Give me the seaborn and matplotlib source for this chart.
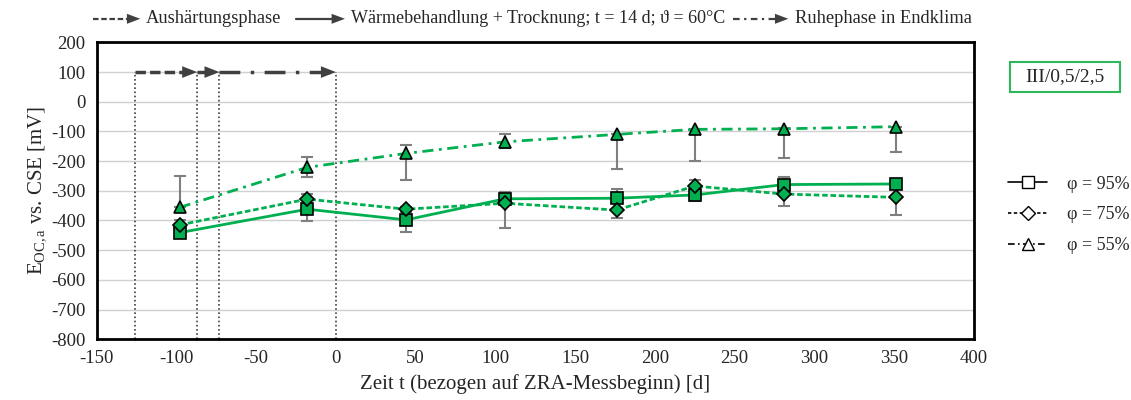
import numpy as np
import pandas as pd
import matplotlib
matplotlib.use("Agg")
import matplotlib.pyplot as plt
from matplotlib.lines import Line2D
from matplotlib.patches import Rectangle
import seaborn as sns

# Measurement times relative to the start of the ZRA measurement [d]
t_days = [-98, -18, 44, 106, 176, 225, 281, 351]

# Open circuit potential vs. CSE [mV] per relative humidity
e_95 = [-441, -362, -398, -327, -325, -314, -279, -277]
e_75 = [-415, -328, -362, -342, -365, -284, -311, -322]
e_55 = [-356, -221, -174, -135, -110, -93, -91, -84]

# Error bar ends (lower, upper) [mV]
lo_95 = [-450, -402, -438, -327, -325, -333, -279, -277]
hi_95 = [-441, -362, -398, -303, -294, -314, -254, -277]
lo_75 = [-425, -328, -372, -424, -393, -284, -350, -380]
hi_75 = [-400, -310, -355, -342, -365, -264, -311, -322]
lo_55 = [-356, -254, -265, -157, -228, -199, -188, -168]
hi_55 = [-250, -186, -147, -109, -110, -93, -87, -84]

labels = ["φ = 95%", "φ = 75%", "φ = 55%"]

# Phase boundaries [d]
phase_t = [-126, -87, -73, 0]
phase_level = 100

GREEN = "#00B050"
GREY = "#7F7F7F"
DARK = "#404040"

sns.set_theme(style="white")
plt.rcParams["font.family"] = ["Liberation Serif", "DejaVu Serif"]
plt.rcParams["mathtext.fontset"] = "custom"
plt.rcParams["mathtext.rm"] = "Liberation Serif"
plt.rcParams["mathtext.it"] = "Liberation Serif:italic"
plt.rcParams["axes.unicode_minus"] = False

df = pd.DataFrame({
    "t": t_days * 3,
    "E": e_95 + e_75 + e_55,
    "phi": [labels[0]] * 8 + [labels[1]] * 8 + [labels[2]] * 8,
})

fig = plt.figure(figsize=(11.31, 4.0), dpi=100)
ax = fig.add_axes([0.0855, 0.152, 0.7755, 0.742])

# error bars behind the markers
for e, lo, hi in [(e_95, lo_95, hi_95), (e_75, lo_75, hi_75), (e_55, lo_55, hi_55)]:
    e = np.array(e); lo = np.array(lo); hi = np.array(hi)
    ax.errorbar(t_days, e, yerr=[e - lo, hi - e], fmt="none", ecolor=GREY,
                elinewidth=1.5, capsize=4, capthick=1.5, zorder=2)

sns.lineplot(
    data=df, x="t", y="E", hue="phi", style="phi",
    palette={l: GREEN for l in labels},
    markers={labels[0]: "s", labels[1]: "D", labels[2]: "^"},
    dashes={labels[0]: "", labels[1]: (2, 1), labels[2]: (4, 2, 1, 2)},
    markersize=9, markeredgecolor="black", markeredgewidth=1.2,
    markerfacecolor=GREEN, linewidth=2, legend=False, ax=ax, zorder=3,
)
# diamonds a bit smaller
for ln in ax.lines:
    if ln.get_marker() == "D":
        ln.set_markersize(7.5)

# phase markers: dotted verticals and arrows at 100 mV
for t in phase_t:
    ax.plot([t, t], [-800, phase_level], linestyle=(0, (1, 1.5)), color=DARK,
            linewidth=1.2, zorder=1)

arrow_styles = [(0, (3, 1.2)), "-", (0, (6, 3, 1, 3))]
for (t0, t1), ls in zip(zip(phase_t[:-1], phase_t[1:]), arrow_styles):
    ax.plot([t0, t1 - 4], [phase_level, phase_level], color=DARK, linewidth=2.5,
            linestyle=ls, zorder=4, solid_capstyle="butt", dash_capstyle="butt")
    ax.annotate("", xy=(t1, phase_level), xytext=(t1 - 6, phase_level),
                arrowprops=dict(arrowstyle="-|>,head_length=0.9,head_width=0.35",
                                color=DARK, lw=0, shrinkA=0, shrinkB=0), zorder=5)

ax.set_xlim(-150, 400)
ax.set_ylim(-800, 200)
ax.set_xticks(np.arange(-150, 401, 50))
ax.set_yticks(np.arange(-800, 201, 100))
ax.yaxis.grid(True, color="#D0D0D0", linewidth=1)
ax.xaxis.grid(False)
for s in ax.spines.values():
    s.set_color("black")
    s.set_linewidth(2)
ax.tick_params(axis="both", direction="out", length=5, width=1.2, color="black",
               labelsize=13.5, pad=3)
ax.set_xlabel("Zeit t (bezogen auf ZRA-Messbeginn) [d]", fontsize=15, labelpad=5)
ax.set_ylabel("E$_{\\mathrm{OC,a}}$ vs. CSE [mV]", fontsize=15, labelpad=2)

# top key for the phase arrows
ky = 0.953
def key_arrow(x0, x1, ls):
    fig.add_artist(Line2D([x0, x1 - 0.006], [ky, ky], transform=fig.transFigure,
                          color=DARK, linewidth=1.6, linestyle=ls))
    ax.annotate("", xy=(x1, ky), xytext=(x1 - 0.008, ky), xycoords="figure fraction",
                textcoords="figure fraction", annotation_clip=False,
                arrowprops=dict(arrowstyle="-|>,head_length=0.8,head_width=0.3",
                                color=DARK, lw=0, shrinkA=0, shrinkB=0))

key_arrow(0.082, 0.124, (0, (2.5, 1.2)))
fig.text(0.129, ky, "Aushärtungsphase", fontsize=13.3, va="center", ha="left")
key_arrow(0.262, 0.305, "-")
fig.text(0.310, ky, "Wärmebehandlung + Trocknung; t = 14 d; ϑ = 60°C", fontsize=13,
         va="center", ha="left")
key_arrow(0.648, 0.697, (0, (3, 2, 1, 2)))
fig.text(0.703, ky, "Ruhephase in Endklima", fontsize=13.3, va="center", ha="left")

# specimen label
fig.add_artist(Rectangle((1010 / 1131, 1 - 92 / 400), 110 / 1131, 30 / 400,
                         transform=fig.transFigure, facecolor="white",
                         edgecolor="#2EB85C", linewidth=1.5))
fig.text(1065 / 1131, 1 - 77 / 400, "III/0,5/2,5", fontsize=14, ha="center", va="center")

# humidity legend
handles = [
    Line2D([], [], color="black", linewidth=1.2, linestyle="-", marker="s",
           markersize=8, markerfacecolor="white", markeredgecolor="black"),
    Line2D([], [], color="black", linewidth=1.2, linestyle=(0, (2, 1.5)), marker="D",
           markersize=7, markerfacecolor="white", markeredgecolor="black"),
    Line2D([], [], color="black", linewidth=1.2, linestyle=(0, (4, 2, 1, 2)), marker="^",
           markersize=8, markerfacecolor="white", markeredgecolor="black"),
]
fig.legend(handles, labels, loc="center left", bbox_to_anchor=(0.891, 0.463),
           frameon=False, fontsize=13, handlelength=2.2, labelspacing=0.75,
           handletextpad=1.1, borderpad=0, borderaxespad=0)

fig.savefig("out.png", dpi=100, facecolor="white")
